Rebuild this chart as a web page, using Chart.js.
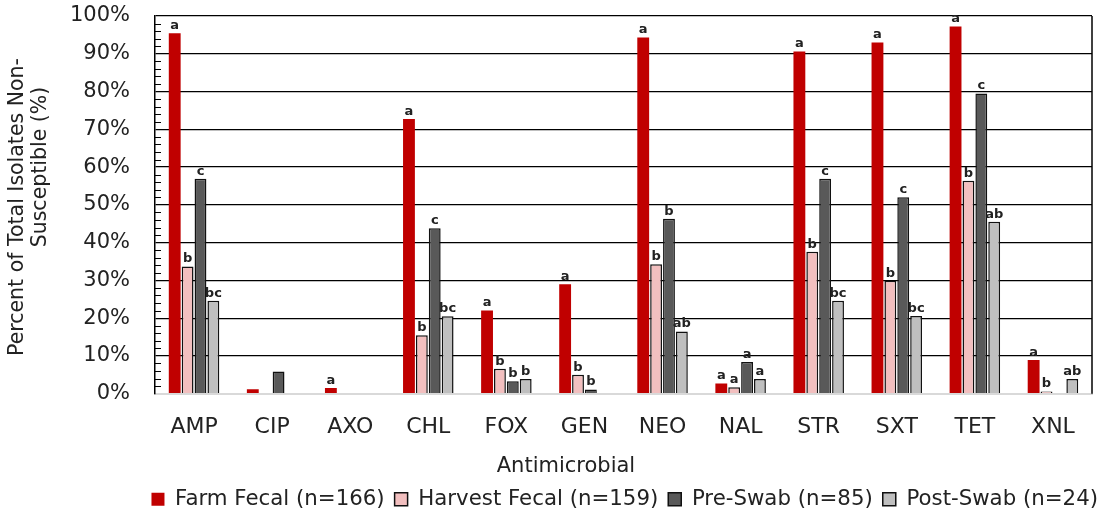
<!DOCTYPE html>
<html><head><meta charset="utf-8">
<script src="https://cdn.jsdelivr.net/npm/chart.js@4"></script>
<style>html,body{margin:0;padding:0;background:#fff}</style>
</head><body>
<canvas id="c" width="1108" height="520"></canvas>
<script>
const categories = ['AMP','CIP','AXO','CHL','FOX','GEN','NEO','NAL','STR','SXT','TET','XNL'];
const seriesNames = ['Farm Fecal (n=166)','Harvest Fecal (n=159)','Pre-Swab (n=85)','Post-Swab (n=24)'];
const farmFecal    = [95.4, 1.2, 1.5, 72.7, 22.0, 29.0, 94.3, 2.7, 90.6, 93.0, 97.2, 8.9];
const harvestFecal = [33.7, 0,   0,   15.5,  6.6,  5.0, 34.3, 1.7, 37.6, 29.9, 56.4, 0.6];
const preSwab      = [56.9, 5.9, 0,   43.8,  3.3,  1.1, 46.3, 8.4, 56.9, 52.0, 79.5, 0];
const postSwab     = [24.6, 0,   0,   20.5,  3.9,  0,   16.5, 3.9, 24.6, 20.6, 45.5, 3.9];
const farmLetters    = ['a','','a','a','a','a','a','a','a','a','a','a'];
const harvestLetters = ['b','','','b','b','b','b','a','b','b','b','b'];
const preLetters     = ['c','','','c','b','b','b','a','c','c','c',''];
const postLetters    = ['bc','','','bc','b','','ab','a','bc','bc','ab','ab'];
const yTickValues = [0,10,20,30,40,50,60,70,80,90,100];
const yTitleLines = ['Percent of Total Isolates Non-','Susceptible (%)'];
const xTitle = 'Antimicrobial';

const FONT = '"DejaVu Sans", sans-serif';
Chart.defaults.font.family = FONT;
Chart.defaults.color = '#222';

const extras = {
  id: 'extras',
  beforeDatasetsDraw(chart) {
    const {ctx, chartArea: a, scales: {y}} = chart;
    ctx.save();
    ctx.strokeStyle = '#000';
    ctx.lineWidth = 1;
    for (let v = 2; v < 100; v += 2) {
      if (v % 10 === 0) continue;
      const py = Math.round(y.getPixelForValue(v)) + 0.5;
      ctx.beginPath(); ctx.moveTo(a.left, py); ctx.lineTo(a.left + 6, py); ctx.stroke();
    }
    ctx.lineWidth = 1.5;
    ctx.beginPath(); ctx.moveTo(a.right, a.top); ctx.lineTo(a.right, a.bottom); ctx.stroke();
    ctx.restore();
  },
  afterDatasetsDraw(chart) {
    const {ctx, chartArea: a} = chart;
    ctx.save();
    ctx.font = 'bold 13px ' + FONT;
    ctx.textAlign = 'center';
    ctx.textBaseline = 'bottom';
    ctx.fillStyle = '#222';
    chart.data.datasets.forEach((ds, i) => {
      const meta = chart.getDatasetMeta(i);
      meta.data.forEach((bar, j) => {
        const t = ds.letters[j];
        if (t) ctx.fillText(t, bar.x, bar.y - 1);
      });
    });
    // axis titles
    ctx.font = '20.5px ' + FONT;
    ctx.textBaseline = 'middle';
    ctx.fillStyle = '#222';
    ctx.save(); ctx.translate(18, 207); ctx.rotate(-Math.PI/2); ctx.fillText(yTitleLines[0], 0, 0); ctx.restore();
    ctx.save(); ctx.translate(41, 167); ctx.rotate(-Math.PI/2); ctx.fillText(yTitleLines[1], 0, 0); ctx.restore();
    ctx.font = '21px ' + FONT;
    ctx.fillText(xTitle, a.left + 0.4386 * (a.right - a.left), 467);
    ctx.restore();
  }
};

const colors = ['#C00000', '#F2BFBF', '#595959', '#BFBFBF'];
const values = [farmFecal, harvestFecal, preSwab, postSwab];
const letters = [farmLetters, harvestLetters, preLetters, postLetters];

new Chart(document.getElementById('c'), {
  type: 'bar',
  data: {
    labels: categories,
    datasets: seriesNames.map((name, i) => ({
      label: name,
      data: values[i],
      letters: letters[i],
      backgroundColor: colors[i],
      borderColor: i === 0 ? colors[i] : '#111',
      borderWidth: i === 0 ? 0 : 1.5,
      categoryPercentage: 0.66,
      barPercentage: 0.92
    }))
  },
  options: {
    responsive: false,
    animation: false,
    devicePixelRatio: 1,
    layout: {padding: {left: 0, right: 0, top: 16, bottom: 0}},
    plugins: {
      tooltip: {enabled: false},
      legend: {
        position: 'bottom',
        align: 'end',
        labels: {
          font: {size: 21.3},
          boxWidth: 13, boxHeight: 13,
          padding: 10,
          color: '#222'
        }
      }
    },
    scales: {
      x: {
        grid: {display: false, drawTicks: false},
        border: {color: '#D9D9D9', width: 2},
        ticks: {font: {size: 22}, padding: 20, color: '#222'},
        afterFit(s) { s.height = 85; }
      },
      y: {
        min: 0, max: 100,
        afterBuildTicks(s) { s.ticks = yTickValues.map(v => ({value: v})); },
        grid: {
          drawTicks: false,
          color: c => (c.tick && c.tick.value === 0) ? 'rgba(0,0,0,0)' : '#000',
          lineWidth: 1.3
        },
        border: {color: '#000', width: 1.5},
        ticks: {font: {size: 21}, padding: 25, color: '#222', callback: v => v + '%'},
        afterFit(s) { s.width = 155; s.paddingTop = 0; s.paddingBottom = 0; }
      },
      yRight: {
        type: 'linear',
        position: 'right',
        display: true,
        grid: {display: false, drawTicks: false},
        border: {display: false},
        ticks: {display: false},
        afterFit(s) { s.width = 16; s.paddingTop = 0; s.paddingBottom = 0; }
      }
    }
  },
  plugins: [extras]
});
</script>
</body></html>
